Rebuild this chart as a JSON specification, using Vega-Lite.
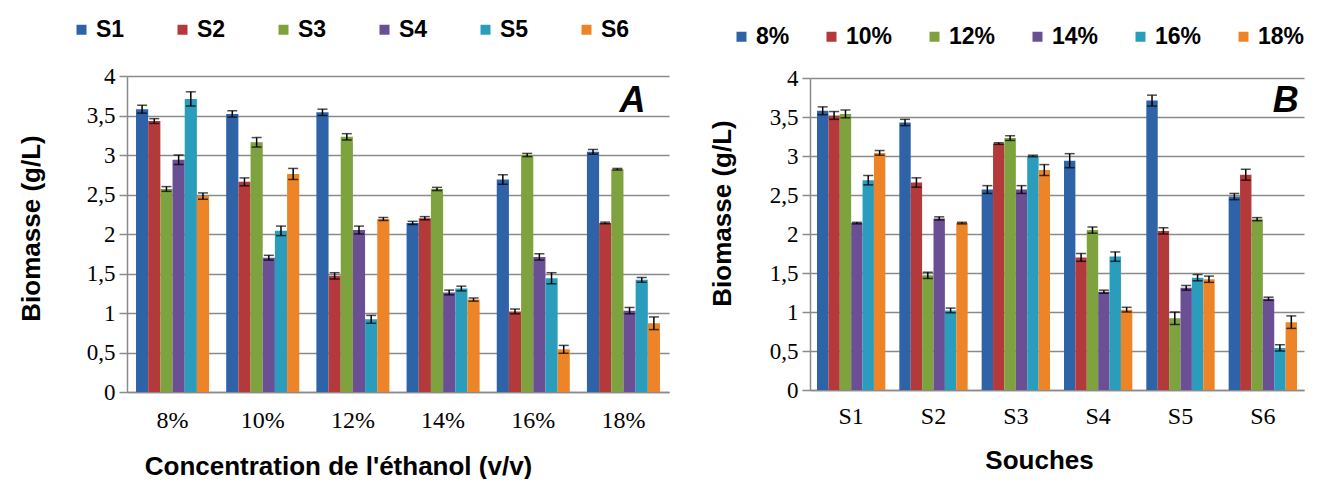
{
  "$schema": "https://vega.github.io/schema/vega-lite/v6.json",
  "autosize": {"type": "pad"},
  "padding": {"left": 18, "top": 18, "right": 0, "bottom": 0},
  "spacing": 141,
  "bounds": "flush",
  "center": true,
  "config": {
    "view": {"stroke": null},
    "style": {"guide-label": {"font": "Liberation Serif"}},
    "axis": {"labelFont": "Liberation Serif"},
    "axisLeft": {"labelFont": "Liberation Serif"},
    "axisY": {
      "tickCount": 8,
      "labelOverlap": false,
      "labelExpr": "replace(format(datum.value, '~g'), '.', ',')",
      "labelFont": "Liberation Serif", "labelFontSize": 23, "labelColor": "black", "labelPadding": 4,
      "domainColor": "#8a8a8a", "domainWidth": 1.5,
      "tickColor": "#8a8a8a", "tickSize": 8, "tickWidth": 1.5,
      "gridColor": "#8a8a8a", "gridWidth": 1.5,
      "titleFont": "Liberation Sans", "titleFontSize": 26, "titleFontWeight": "bold", "titleColor": "black",
      "titleAlign": "center", "titleBaseline": "middle", "titleAngle": -90
    }
  },
  "datasets": {
    "d": [
      {"s": "S1", "c": "8%", "v": 3.58, "loA": 3.53, "hiA": 3.63, "loB": 3.53, "hiB": 3.63},
      {"s": "S1", "c": "10%", "v": 3.52, "loA": 3.48, "hiA": 3.56, "loB": 3.47, "hiB": 3.57},
      {"s": "S1", "c": "12%", "v": 3.54, "loA": 3.50, "hiA": 3.58, "loB": 3.49, "hiB": 3.59},
      {"s": "S1", "c": "14%", "v": 2.14, "loA": 2.12, "hiA": 2.16, "loB": 2.13, "hiB": 2.15},
      {"s": "S1", "c": "16%", "v": 2.69, "loA": 2.63, "hiA": 2.75, "loB": 2.63, "hiB": 2.75},
      {"s": "S1", "c": "18%", "v": 3.04, "loA": 3.01, "hiA": 3.07, "loB": 3.01, "hiB": 3.07},
      {"s": "S2", "c": "8%", "v": 3.43, "loA": 3.40, "hiA": 3.46, "loB": 3.39, "hiB": 3.47},
      {"s": "S2", "c": "10%", "v": 2.66, "loA": 2.61, "hiA": 2.71, "loB": 2.60, "hiB": 2.72},
      {"s": "S2", "c": "12%", "v": 1.47, "loA": 1.43, "hiA": 1.51, "loB": 1.43, "hiB": 1.51},
      {"s": "S2", "c": "14%", "v": 2.20, "loA": 2.18, "hiA": 2.22, "loB": 2.18, "hiB": 2.22},
      {"s": "S2", "c": "16%", "v": 1.02, "loA": 0.99, "hiA": 1.05, "loB": 0.99, "hiB": 1.05},
      {"s": "S2", "c": "18%", "v": 2.14, "loA": 2.13, "hiA": 2.15, "loB": 2.13, "hiB": 2.15},
      {"s": "S3", "c": "8%", "v": 2.57, "loA": 2.54, "hiA": 2.60, "loB": 2.52, "hiB": 2.62},
      {"s": "S3", "c": "10%", "v": 3.16, "loA": 3.10, "hiA": 3.22, "loB": 3.15, "hiB": 3.17},
      {"s": "S3", "c": "12%", "v": 3.23, "loA": 3.19, "hiA": 3.27, "loB": 3.20, "hiB": 3.26},
      {"s": "S3", "c": "14%", "v": 2.57, "loA": 2.55, "hiA": 2.59, "loB": 2.52, "hiB": 2.62},
      {"s": "S3", "c": "16%", "v": 3.00, "loA": 2.98, "hiA": 3.02, "loB": 2.99, "hiB": 3.01},
      {"s": "S3", "c": "18%", "v": 2.82, "loA": 2.81, "hiA": 2.83, "loB": 2.75, "hiB": 2.89},
      {"s": "S4", "c": "8%", "v": 2.94, "loA": 2.88, "hiA": 3.00, "loB": 2.85, "hiB": 3.03},
      {"s": "S4", "c": "10%", "v": 1.70, "loA": 1.67, "hiA": 1.73, "loB": 1.65, "hiB": 1.75},
      {"s": "S4", "c": "12%", "v": 2.05, "loA": 2.00, "hiA": 2.10, "loB": 2.01, "hiB": 2.09},
      {"s": "S4", "c": "14%", "v": 1.26, "loA": 1.23, "hiA": 1.29, "loB": 1.24, "hiB": 1.28},
      {"s": "S4", "c": "16%", "v": 1.71, "loA": 1.67, "hiA": 1.75, "loB": 1.65, "hiB": 1.77},
      {"s": "S4", "c": "18%", "v": 1.03, "loA": 0.99, "hiA": 1.07, "loB": 1.00, "hiB": 1.06},
      {"s": "S5", "c": "8%", "v": 3.71, "loA": 3.62, "hiA": 3.80, "loB": 3.64, "hiB": 3.78},
      {"s": "S5", "c": "10%", "v": 2.04, "loA": 1.98, "hiA": 2.10, "loB": 2.00, "hiB": 2.08},
      {"s": "S5", "c": "12%", "v": 0.92, "loA": 0.87, "hiA": 0.97, "loB": 0.84, "hiB": 1.00},
      {"s": "S5", "c": "14%", "v": 1.31, "loA": 1.28, "hiA": 1.34, "loB": 1.28, "hiB": 1.34},
      {"s": "S5", "c": "16%", "v": 1.44, "loA": 1.37, "hiA": 1.51, "loB": 1.40, "hiB": 1.48},
      {"s": "S5", "c": "18%", "v": 1.42, "loA": 1.39, "hiA": 1.45, "loB": 1.38, "hiB": 1.46},
      {"s": "S6", "c": "8%", "v": 2.48, "loA": 2.44, "hiA": 2.52, "loB": 2.44, "hiB": 2.52},
      {"s": "S6", "c": "10%", "v": 2.76, "loA": 2.69, "hiA": 2.83, "loB": 2.69, "hiB": 2.83},
      {"s": "S6", "c": "12%", "v": 2.19, "loA": 2.17, "hiA": 2.21, "loB": 2.17, "hiB": 2.21},
      {"s": "S6", "c": "14%", "v": 1.17, "loA": 1.15, "hiA": 1.19, "loB": 1.15, "hiB": 1.19},
      {"s": "S6", "c": "16%", "v": 0.54, "loA": 0.49, "hiA": 0.59, "loB": 0.50, "hiB": 0.58},
      {"s": "S6", "c": "18%", "v": 0.87, "loA": 0.79, "hiA": 0.95, "loB": 0.79, "hiB": 0.95}
    ]
  },
  "resolve": {"scale": {"color": "independent", "x": "independent", "xOffset": "independent", "y": "independent"}},
  "hconcat": [
    {
      "width": 542,
      "height": 316,
      "data": {"name": "d"},
      "encoding": {
        "x": {
          "field": "c", "type": "nominal",
          "sort": ["8%", "10%", "12%", "14%", "16%", "18%"],
          "scale": {"paddingInner": 0.19, "paddingOuter": 0.1},
          "axis": {
            "labelAngle": 0, "labelFont": "Liberation Serif", "labelFontSize": 24, "labelColor": "black",
            "ticks": false, "labelPadding": 16,
            "domainColor": "#8a8a8a", "domainWidth": 1.5,
            "title": "Concentration de l'éthanol (v/v)",
            "titleFont": "Liberation Sans", "titleFontSize": 26, "titleFontWeight": "bold", "titleColor": "black",
            "titleX": 211, "titleY": 74, "titleAlign": "center", "titleBaseline": "middle"
          }
        }
      },
      "layer": [
        {
          "mark": {"type": "bar"},
          "encoding": {
            "xOffset": {"field": "s", "type": "nominal", "sort": ["S1", "S2", "S3", "S4", "S5", "S6"], "scale": {"paddingInner": 0, "paddingOuter": 0}},
            "y": {
              "field": "v", "type": "quantitative",
              "title": "Biomasse (g/L)",
              "scale": {"domain": [0, 4], "nice": false},
              "axis": {"titleX": -96, "titleY": 152, "labelFont": "Liberation Serif", "labelFontSize": 23}
            },
            "color": {
              "field": "s", "type": "nominal",
              "scale": {"domain": ["S1", "S2", "S3", "S4", "S5", "S6"], "range": ["#2E63A8", "#B3393A", "#7EA23E", "#6B4F94", "#2A9DBC", "#EE8428"]},
              "legend": {
                "orient": "none", "legendX": -57, "legendY": -58, "direction": "horizontal", "columns": 6,
                "title": null, "symbolType": "square", "symbolSize": 100, "symbolStrokeWidth": 0,
                "labelFont": "Liberation Sans", "labelFontWeight": "bold", "labelFontSize": 23, "labelColor": "black",
                "labelOffset": 3, "columnPadding": 46, "padding": 0
              }
            }
          }
        },
        {
          "mark": {"type": "rule", "color": "black", "strokeWidth": 1.5},
          "encoding": {
            "xOffset": {"field": "s", "type": "nominal", "sort": ["S1", "S2", "S3", "S4", "S5", "S6"]},
            "y": {"field": "loA", "type": "quantitative", "title": "Biomasse (g/L)", "axis": {"titleX": -96, "titleY": 152, "labelFont": "Liberation Serif", "labelFontSize": 23}},
            "y2": {"field": "hiA"}
          }
        },
        {
          "mark": {"type": "tick", "color": "black", "thickness": 1.5, "size": 10},
          "encoding": {
            "xOffset": {"field": "s", "type": "nominal", "sort": ["S1", "S2", "S3", "S4", "S5", "S6"]},
            "y": {"field": "loA", "type": "quantitative", "title": "Biomasse (g/L)", "axis": {"titleX": -96, "titleY": 152, "labelFont": "Liberation Serif", "labelFontSize": 23}}
          }
        },
        {
          "mark": {"type": "tick", "color": "black", "thickness": 1.5, "size": 10},
          "encoding": {
            "xOffset": {"field": "s", "type": "nominal", "sort": ["S1", "S2", "S3", "S4", "S5", "S6"]},
            "y": {"field": "hiA", "type": "quantitative", "title": "Biomasse (g/L)", "axis": {"titleX": -96, "titleY": 152, "labelFont": "Liberation Serif", "labelFontSize": 23}}
          }
        },
        {
          "data": {"values": [{"c": "18%", "y": 3.68, "t": "A"}]},
          "mark": {"type": "text", "font": "Liberation Sans", "fontSize": 36, "fontWeight": "bold", "fontStyle": "italic", "dx": 9, "color": "black"},
          "encoding": {
            "y": {"field": "y", "type": "quantitative", "title": "Biomasse (g/L)", "axis": {"titleX": -96, "titleY": 152, "labelFont": "Liberation Serif", "labelFontSize": 23}},
            "text": {"field": "t", "type": "nominal"}
          }
        }
      ]
    },
    {
      "width": 494,
      "height": 312,
      "data": {"name": "d"},
      "encoding": {
        "x": {
          "field": "s", "type": "nominal",
          "sort": ["S1", "S2", "S3", "S4", "S5", "S6"],
          "scale": {"paddingInner": 0.17, "paddingOuter": 0.085},
          "axis": {
            "labelAngle": 0, "labelFont": "Liberation Serif", "labelFontSize": 24, "labelColor": "black",
            "ticks": false, "labelPadding": 14,
            "domainColor": "#8a8a8a", "domainWidth": 1.5,
            "title": "Souches",
            "titleFont": "Liberation Sans", "titleFontSize": 26, "titleFontWeight": "bold", "titleColor": "black",
            "titleX": 229, "titleY": 70, "titleAlign": "center", "titleBaseline": "middle"
          }
        }
      },
      "layer": [
        {
          "mark": {"type": "bar"},
          "encoding": {
            "xOffset": {"field": "c", "type": "nominal", "sort": ["8%", "10%", "12%", "14%", "16%", "18%"], "scale": {"paddingInner": 0, "paddingOuter": 0}},
            "y": {
              "field": "v", "type": "quantitative",
              "title": "Biomasse (g/L)",
              "scale": {"domain": [0, 4], "nice": false},
              "axis": {"titleX": -88, "titleY": 135, "labelFont": "Liberation Serif", "labelFontSize": 23}
            },
            "color": {
              "field": "c", "type": "nominal",
              "scale": {"domain": ["8%", "10%", "12%", "14%", "16%", "18%"], "range": ["#2E63A8", "#B3393A", "#7EA23E", "#6B4F94", "#2A9DBC", "#EE8428"]},
              "legend": {
                "orient": "none", "legendX": -80, "legendY": -53, "direction": "horizontal", "columns": 6,
                "title": null, "symbolType": "square", "symbolSize": 100, "symbolStrokeWidth": 0,
                "labelFont": "Liberation Sans", "labelFontWeight": "bold", "labelFontSize": 23, "labelColor": "black",
                "labelOffset": 3, "columnPadding": 30, "padding": 0
              }
            }
          }
        },
        {
          "mark": {"type": "rule", "color": "black", "strokeWidth": 1.5},
          "encoding": {
            "xOffset": {"field": "c", "type": "nominal", "sort": ["8%", "10%", "12%", "14%", "16%", "18%"]},
            "y": {"field": "loB", "type": "quantitative", "title": "Biomasse (g/L)", "axis": {"titleX": -88, "titleY": 135, "labelFont": "Liberation Serif", "labelFontSize": 23}},
            "y2": {"field": "hiB"}
          }
        },
        {
          "mark": {"type": "tick", "color": "black", "thickness": 1.5, "size": 10},
          "encoding": {
            "xOffset": {"field": "c", "type": "nominal", "sort": ["8%", "10%", "12%", "14%", "16%", "18%"]},
            "y": {"field": "loB", "type": "quantitative", "title": "Biomasse (g/L)", "axis": {"titleX": -88, "titleY": 135, "labelFont": "Liberation Serif", "labelFontSize": 23}}
          }
        },
        {
          "mark": {"type": "tick", "color": "black", "thickness": 1.5, "size": 10},
          "encoding": {
            "xOffset": {"field": "c", "type": "nominal", "sort": ["8%", "10%", "12%", "14%", "16%", "18%"]},
            "y": {"field": "hiB", "type": "quantitative", "title": "Biomasse (g/L)", "axis": {"titleX": -88, "titleY": 135, "labelFont": "Liberation Serif", "labelFontSize": 23}}
          }
        },
        {
          "data": {"values": [{"s": "S6", "y": 3.7, "t": "B"}]},
          "mark": {"type": "text", "font": "Liberation Sans", "fontSize": 36, "fontWeight": "bold", "fontStyle": "italic", "dx": 23, "color": "black"},
          "encoding": {
            "y": {"field": "y", "type": "quantitative", "title": "Biomasse (g/L)", "axis": {"titleX": -88, "titleY": 135, "labelFont": "Liberation Serif", "labelFontSize": 23}},
            "text": {"field": "t", "type": "nominal"}
          }
        }
      ]
    }
  ]
}
